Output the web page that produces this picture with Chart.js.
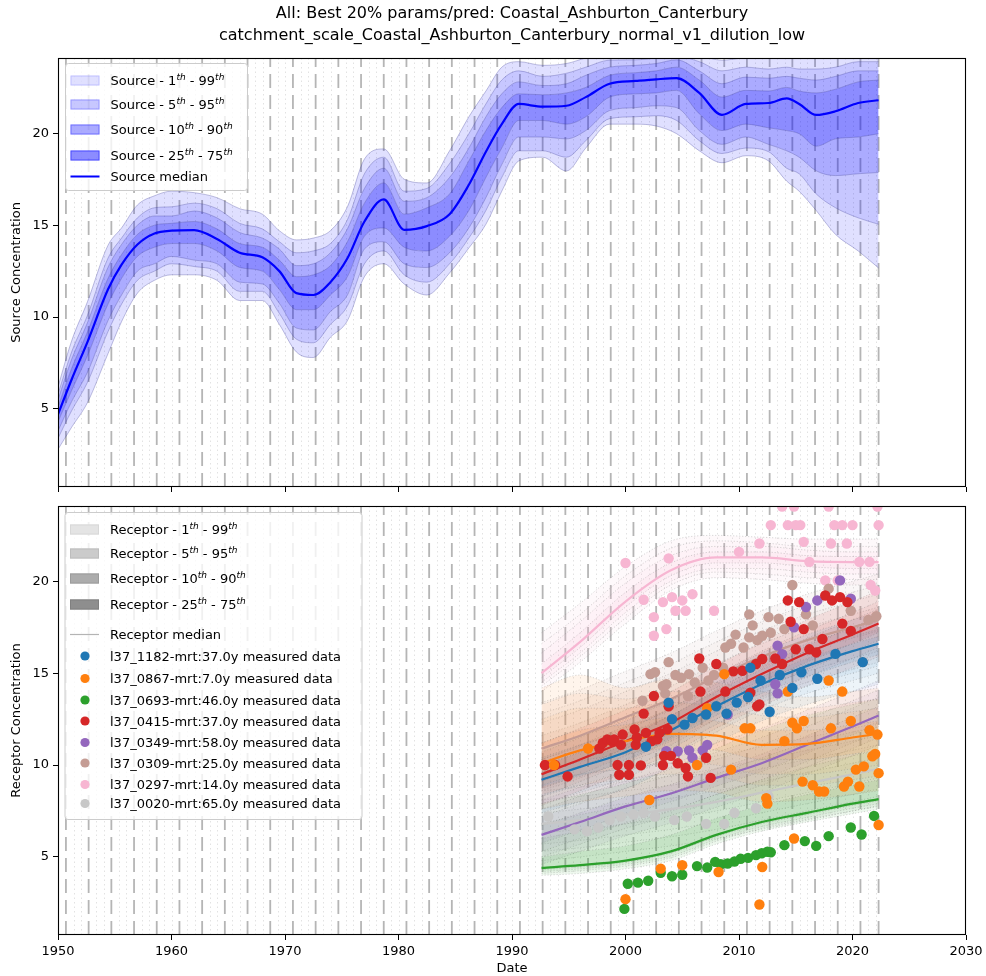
<!DOCTYPE html>
<html>
<head>
<meta charset="utf-8">
<title>Source and receptor concentration</title>
<script src="https://cdn.jsdelivr.net/npm/chart.js@4.4.1/dist/chart.umd.min.js"></script>
<style>
    body { margin: 0; background: #fff; }
    #wrap { position: relative; width: 986px; height: 976px; }
    canvas { position: absolute; left: 0; }
    #source-chart { top: 0; }
    #receptor-chart { top: 490px; }
</style>
</head>
<body>
<div id="wrap">
    <canvas id="source-chart" width="986" height="496"></canvas>
    <canvas id="receptor-chart" width="986" height="486"></canvas>
</div>
<script>
const FONT = 'DejaVu Sans';

// REFERENCE LINES (decimal years)
const dashedYears = [1950.7, 1952.7, 1954.7, 1956.7, 1958.7, 1960.7, 1962.7, 1964.7, 1966.7, 1968.7,
    1970.7, 1972.7, 1974.7, 1976.7, 1978.7, 1980.7, 1982.7, 1984.7, 1986.7, 1988.7, 1990.7, 1992.7,
    1994.7, 1996.7, 1998.7, 2000.7, 2002.7, 2004.7, 2006.7, 2008.7, 2010.7, 2012.7, 2014.7, 2016.7,
    2018.7, 2020.7, 2022.3];
const dottedYears = [1950.03, 1951.37, 1952.03, 1953.37, 1954.03, 1955.37, 1956.03, 1957.37, 1958.03,
    1959.37, 1960.03, 1961.37, 1962.03, 1963.37, 1964.03, 1965.37, 1966.03, 1967.37, 1968.03, 1969.37,
    1970.03, 1971.37, 1972.03, 1973.37, 1974.03, 1975.37, 1976.03, 1977.37, 1978.03, 1979.37, 1980.03,
    1981.37, 1982.03, 1983.37, 1984.03, 1985.37, 1986.03, 1987.37, 1988.03, 1989.37, 1990.03, 1991.37,
    1992.03, 1993.37, 1994.03, 1995.37, 1996.03, 1997.37, 1998.03, 1999.37, 2000.03, 2001.37, 2002.03,
    2003.37, 2004.03, 2005.37, 2006.03, 2007.37, 2008.03, 2009.37, 2010.03, 2011.37, 2012.03, 2013.37,
    2014.03, 2015.37, 2016.03, 2017.37, 2018.03, 2019.37, 2020.03, 2021.37, 2022.03];

// AXES
const xTicks = [1950, 1960, 1970, 1980, 1990, 2000, 2010, 2020, 2030];
const yTicks = [5, 10, 15, 20];

// SOURCE: rows are [p1, p5, p10, p25, median, p75, p90, p95, p99]
const sourceYears = [1950, 1951.2, 1952.6, 1954.4, 1955.6, 1957, 1958.5, 1960, 1962, 1964, 1966, 1968,
    1969.5, 1971, 1972.5, 1974, 1975.5, 1977, 1978.7, 1980.5, 1982.5, 1984.5, 1986.2, 1987.7, 1989.1,
    1990.6, 1992.7, 1994.8, 1996.5, 1998.6, 2000.9, 2002.7, 2004.5, 2006.5, 2008.5, 2010.6, 2012.6,
    2014.2, 2015.3, 2016.8, 2018.5, 2020.5, 2022.3];
const sourceBands = [
    [2.8, 3.4, 3.8, 4.3, 4.7, 5.1, 5.5, 5.8, 6.2],
    [4.0, 4.9, 5.4, 6.0, 6.6, 7.2, 7.7, 8.1, 8.7],
    [5.35, 6.45, 7.0, 7.9, 8.65, 9.2, 9.7, 10.1, 10.84],
    [8.0, 9.2, 9.8, 10.7, 11.5, 12.1, 12.7, 13.2, 13.9],
    [9.75, 10.7, 11.2, 12.1, 12.85, 13.4, 13.95, 14.3, 14.85],
    [11.3, 12.0, 12.5, 13.3, 13.95, 14.5, 15.0, 15.4, 16.1],
    [12.0, 12.5, 12.9, 13.8, 14.55, 15.0, 15.5, 15.95, 16.6],
    [12.3, 12.9, 13.3, 14.0, 14.7, 15.1, 15.5, 16.0, 16.85],
    [12.3, 12.75, 13.1, 14.0, 14.73, 15.2, 15.77, 16.2, 16.77],
    [12.0, 12.5, 12.9, 13.6, 14.25, 14.8, 15.4, 15.9, 16.5],
    [10.9, 11.4, 11.9, 12.7, 13.5, 14.0, 14.6, 15.1, 15.9],
    [10.9, 11.4, 11.8, 12.5, 13.25, 13.8, 14.3, 14.8, 15.6],
    [9.6, 10.2, 10.75, 11.5, 12.5, 13.1, 13.7, 14.1, 14.7],
    [8.1, 8.8, 9.4, 10.4, 11.3, 12.2, 12.8, 13.5, 14.2],
    [7.8, 8.6, 9.3, 10.4, 11.2, 12.3, 12.9, 13.6, 14.3],
    [8.9, 9.6, 10.3, 11.2, 11.9, 12.8, 13.5, 14.0, 14.7],
    [9.8, 10.6, 11.2, 12.2, 13.2, 14.1, 14.8, 15.3, 16.0],
    [12.2, 12.9, 13.7, 14.4, 15.2, 16.2, 17.0, 17.8, 18.6],
    [12.9, 13.6, 14.1, 14.85, 16.4, 17.3, 18.1, 18.7, 19.15],
    [11.8, 12.3, 12.9, 13.8, 14.75, 15.6, 16.3, 16.85, 17.5],
    [11.2, 11.9, 12.7, 13.6, 14.95, 15.95, 16.5, 17.0, 17.3],
    [12.4, 12.9, 13.5, 14.4, 15.6, 16.7, 17.6, 18.35, 19.05],
    [13.76, 14.3, 14.85, 15.8, 17.2, 18.5, 19.2, 19.98, 20.9],
    [15.05, 15.8, 16.5, 17.6, 19.0, 20.15, 20.9, 21.6, 22.3],
    [16.85, 17.6, 18.3, 19.2, 20.5, 21.4, 22.15, 22.9, 23.6],
    [18.5, 19.05, 19.8, 20.7, 21.6, 22.15, 22.8, 23.4, 23.9],
    [18.7, 19.05, 19.8, 20.7, 21.45, 22.1, 22.6, 23.1, 23.7],
    [17.95, 18.7, 19.7, 20.5, 21.5, 22.2, 22.7, 23.27, 23.8],
    [19.2, 19.6, 20.15, 20.9, 21.97, 22.5, 23.16, 23.6, 24.1],
    [20.5, 20.8, 21.24, 21.97, 22.7, 23.16, 23.6, 23.98, 24.36],
    [20.5, 20.9, 21.4, 22.15, 22.85, 23.3, 23.7, 24.0, 24.3],
    [20.4, 20.96, 21.5, 22.2, 22.94, 23.4, 23.8, 24.1, 24.4],
    [19.98, 20.7, 21.4, 22.34, 23.0, 23.6, 24.0, 24.2, 24.5],
    [19.05, 19.6, 20.15, 21.06, 22.2, 22.9, 23.4, 23.9, 24.25],
    [18.4, 18.9, 19.4, 20.15, 21.0, 21.97, 22.7, 23.4, 23.98],
    [18.78, 19.2, 19.8, 20.5, 21.6, 22.34, 23.06, 23.6, 24.1],
    [18.5, 19.0, 19.4, 20.3, 21.65, 22.3, 23.0, 23.5, 24.1],
    [17.4, 18.1, 19.05, 20.15, 21.9, 22.5, 23.1, 23.6, 24.1],
    [16.85, 17.8, 18.7, 19.98, 21.6, 22.3, 23.0, 23.5, 24.1],
    [15.8, 16.7, 17.96, 19.3, 21.0, 22.2, 22.9, 23.5, 24.1],
    [14.5, 15.95, 17.7, 19.7, 21.2, 22.4, 23.1, 23.6, 24.1],
    [13.6, 15.4, 17.8, 19.8, 21.65, 22.8, 23.4, 23.9, 24.2],
    [12.67, 15.05, 17.87, 19.98, 21.8, 22.9, 23.4, 23.9, 24.2]
];

// RECEPTORS: band rows are [p1, p5, p10, p25, median, p75, p90, p95, p99]
const receptorYears = [1992.6, 1996, 2000, 2004, 2008, 2012, 2016, 2020, 2022.3];

const bands1182 = [
    [7.4, 7.9, 8.3, 8.8, 9.2, 9.6, 10.0, 10.4, 10.9],
    [8.0, 8.5, 8.9, 9.4, 9.9, 10.3, 10.7, 11.1, 11.6],
    [8.7, 9.3, 9.7, 10.2, 10.7, 11.1, 11.5, 11.9, 12.4],
    [9.9, 10.5, 10.9, 11.4, 11.9, 12.3, 12.7, 13.1, 13.6],
    [11.2, 11.8, 12.2, 12.7, 13.2, 13.6, 14.0, 14.4, 14.9],
    [12.4, 13.0, 13.4, 13.9, 14.4, 14.8, 15.2, 15.6, 16.1],
    [13.3, 13.9, 14.3, 14.8, 15.4, 15.8, 16.2, 16.6, 17.1],
    [14.0, 14.6, 15.0, 15.6, 16.2, 16.6, 17.0, 17.4, 17.9],
    [14.4, 15.0, 15.4, 16.0, 16.6, 17.0, 17.4, 17.8, 18.3]
];
const bands0867 = [
    [7.6, 8.4, 8.9, 9.5, 10.1, 11.2, 12.5, 13.3, 14.2],
    [8.0, 8.9, 9.5, 10.2, 10.8, 11.9, 13.1, 13.9, 14.9],
    [8.3, 9.2, 9.8, 10.6, 11.3, 12.2, 13.1, 13.6, 14.2],
    [8.6, 9.5, 10.1, 10.9, 11.7, 12.6, 13.4, 14.0, 14.7],
    [8.5, 9.4, 10.0, 10.8, 11.6, 12.4, 13.2, 13.8, 14.5],
    [8.0, 8.9, 9.5, 10.3, 11.1, 11.9, 12.7, 13.3, 14.0],
    [8.1, 8.9, 9.5, 10.3, 11.15, 11.9, 12.6, 13.1, 13.7],
    [8.4, 9.2, 9.8, 10.6, 11.5, 12.2, 12.9, 13.4, 14.0],
    [8.6, 9.4, 10.0, 10.8, 11.7, 12.4, 13.1, 13.6, 14.2]
];
const bands0693 = [
    [4.0, 4.1, 4.2, 4.3, 4.4, 5.0, 6.0, 6.8, 7.9],
    [4.1, 4.25, 4.35, 4.45, 4.55, 5.3, 6.4, 7.3, 8.4],
    [4.35, 4.5, 4.6, 4.7, 4.8, 5.6, 6.8, 7.8, 9.0],
    [4.8, 4.95, 5.05, 5.2, 5.3, 6.2, 7.5, 8.5, 9.8],
    [5.7, 5.85, 5.95, 6.1, 6.2, 7.1, 8.4, 9.5, 10.9],
    [6.4, 6.55, 6.65, 6.8, 6.9, 7.8, 9.2, 10.4, 11.9],
    [6.9, 7.05, 7.15, 7.3, 7.4, 8.4, 9.9, 11.2, 12.7],
    [7.35, 7.5, 7.65, 7.8, 7.9, 8.9, 10.5, 11.8, 13.3],
    [7.6, 7.75, 7.9, 8.05, 8.15, 9.2, 10.8, 12.1, 13.6]
];
const bands0415 = [
    [7.8, 8.3, 8.7, 9.1, 9.5, 9.9, 10.3, 10.7, 11.2],
    [8.6, 9.1, 9.5, 9.9, 10.3, 10.7, 11.1, 11.5, 12.0],
    [9.6, 10.1, 10.5, 10.9, 11.3, 11.7, 12.1, 12.5, 13.0],
    [10.6, 11.1, 11.5, 11.9, 12.3, 12.7, 13.1, 13.5, 14.0],
    [12.0, 12.5, 12.9, 13.3, 13.7, 14.1, 14.5, 14.9, 15.4],
    [13.2, 13.7, 14.1, 14.5, 14.95, 15.4, 15.8, 16.2, 16.7],
    [14.3, 14.8, 15.2, 15.6, 16.1, 16.5, 16.9, 17.3, 17.9],
    [15.3, 15.8, 16.2, 16.6, 17.1, 17.5, 17.9, 18.3, 18.9],
    [15.9, 16.4, 16.8, 17.2, 17.7, 18.1, 18.5, 18.9, 19.5]
];
const bands0349 = [
    [4.6, 5.0, 5.3, 5.75, 6.2, 6.7, 7.2, 7.6, 8.1],
    [5.3, 5.7, 6.0, 6.45, 6.9, 7.4, 7.9, 8.3, 8.8],
    [6.15, 6.55, 6.85, 7.3, 7.75, 8.25, 8.75, 9.15, 9.65],
    [6.85, 7.25, 7.55, 8.0, 8.45, 8.95, 9.45, 9.85, 10.35],
    [7.7, 8.1, 8.4, 8.85, 9.3, 9.8, 10.3, 10.7, 11.2],
    [8.5, 8.9, 9.2, 9.65, 10.1, 10.6, 11.1, 11.5, 12.0],
    [9.5, 9.9, 10.2, 10.65, 11.1, 11.6, 12.1, 12.5, 13.0],
    [10.5, 10.9, 11.2, 11.65, 12.1, 12.6, 13.1, 13.5, 14.0],
    [11.1, 11.5, 11.8, 12.25, 12.7, 13.2, 13.7, 14.1, 14.6]
];
const bands0309 = [
    [8.6, 9.2, 9.6, 10.3, 10.9, 11.6, 12.3, 12.8, 13.4],
    [9.3, 9.9, 10.3, 11.0, 11.6, 12.3, 13.0, 13.5, 14.1],
    [10.3, 10.9, 11.3, 12.0, 12.6, 13.3, 14.0, 14.5, 15.1],
    [11.3, 11.9, 12.3, 13.0, 13.6, 14.3, 15.0, 15.5, 16.1],
    [12.5, 13.1, 13.5, 14.2, 14.8, 15.5, 16.2, 16.7, 17.3],
    [13.6, 14.2, 14.6, 15.3, 15.9, 16.6, 17.3, 17.8, 18.4],
    [14.5, 15.1, 15.5, 16.2, 16.8, 17.5, 18.2, 18.7, 19.3],
    [15.2, 15.8, 16.2, 16.9, 17.5, 18.2, 18.9, 19.4, 20.0],
    [15.6, 16.2, 16.6, 17.3, 17.9, 18.6, 19.3, 19.8, 20.4]
];
const bands0297 = [
    [14.0, 14.3, 14.5, 14.75, 15.0, 15.5, 16.1, 16.6, 17.2],
    [15.6, 15.9, 16.1, 16.4, 16.7, 17.2, 17.8, 18.2, 18.8],
    [17.7, 18.0, 18.3, 18.6, 18.9, 19.4, 19.9, 20.3, 20.8],
    [19.5, 19.8, 20.0, 20.3, 20.6, 21.0, 21.4, 21.8, 22.2],
    [20.2, 20.5, 20.7, 21.0, 21.3, 21.6, 21.9, 22.2, 22.5],
    [20.1, 20.4, 20.7, 21.0, 21.3, 21.6, 21.9, 22.1, 22.4],
    [19.9, 20.2, 20.5, 20.8, 21.1, 21.4, 21.7, 21.9, 22.3],
    [19.8, 20.1, 20.4, 20.7, 21.05, 21.35, 21.6, 21.9, 22.3],
    [19.8, 20.1, 20.4, 20.7, 21.05, 21.35, 21.6, 21.9, 22.3]
];
const bands0020 = [
    [4.8, 5.3, 5.7, 6.3, 6.8, 7.4, 8.1, 8.6, 9.3],
    [5.0, 5.5, 5.9, 6.5, 7.0, 7.6, 8.3, 8.8, 9.5],
    [5.3, 5.8, 6.2, 6.8, 7.3, 7.9, 8.6, 9.1, 9.8],
    [5.6, 6.1, 6.5, 7.1, 7.6, 8.2, 8.9, 9.4, 10.1],
    [6.0, 6.5, 6.9, 7.5, 8.0, 8.6, 9.3, 9.8, 10.5],
    [6.5, 7.0, 7.4, 8.0, 8.5, 9.1, 9.8, 10.3, 11.0],
    [7.0, 7.5, 7.9, 8.5, 9.0, 9.6, 10.3, 10.8, 11.5],
    [7.5, 8.0, 8.4, 9.0, 9.5, 10.1, 10.8, 11.3, 12.0],
    [7.8, 8.3, 8.7, 9.3, 9.8, 10.4, 11.1, 11.6, 12.3]
];

// MEASURED DATA
const obsYears1182 = [2001.8, 2003.8, 2004.1, 2005.2, 2005.9, 2007.1, 2008.0, 2008.9, 2009.8, 2010.8,
    2011.0, 2011.9, 2012.7, 2013.6, 2014.7, 2015.5, 2016.9, 2018.5, 2020.9];
const obsConc1182 = [11.0, 13.4, 12.5, 12.2, 12.56, 12.75, 13.2, 12.8, 13.4, 13.7,
    15.3, 14.6, 12.9, 14.9, 14.2, 15.05, 14.7, 16.05, 15.6];

const obsYears0867 = [1993.7, 1996.7, 2000.0, 2002.1, 2003.1, 2005.0, 2006.3, 2007.2, 2008.2, 2008.7,
    2009.3, 2010.5, 2011.0, 2011.8, 2012.05, 2012.4, 2012.5, 2014.0, 2014.3, 2014.7, 2014.85, 2015.1,
    2015.6, 2015.7, 2016.5, 2017.05, 2017.5, 2017.9, 2018.1, 2019.1, 2019.25, 2019.6, 2019.85, 2020.3,
    2020.6, 2021.0, 2021.5, 2021.75, 2022.0, 2022.2, 2022.3, 2022.3];
const obsConc0867 = [10.0, 10.9, 2.7, 8.1, 4.36, 4.55, 10.0, 13.1, 4.18, 14.95,
    9.75, 12.0, 12.0, 2.41, 4.45, 8.2, 7.9, 11.3, 14.0, 12.3, 6.0, 12.0,
    9.1, 12.4, 8.9, 8.56, 8.56, 14.6, 12.0, 14.0, 8.83, 9.1, 12.4, 9.75,
    8.83, 9.93, 11.9, 10.48, 10.6, 11.66, 9.56, 6.74];

const obsYears0693 = [1999.9, 2000.2, 2001.1, 2002.0, 2003.1, 2004.1, 2005.0, 2006.3, 2007.2, 2007.9,
    2008.4, 2009.0, 2009.6, 2010.15, 2010.8, 2011.5, 2012.0, 2012.5, 2012.8, 2014.0, 2015.8, 2016.8,
    2017.9, 2019.85, 2020.8, 2021.9];
const obsConc0693 = [2.17, 3.54, 3.6, 3.7, 4.14, 3.95, 4.03, 4.5, 4.42, 4.73,
    4.6, 4.64, 4.75, 4.9, 4.95, 5.1, 5.2, 5.28, 5.25, 5.64, 5.86, 5.6,
    6.13, 6.6, 6.22, 7.23];

const obsYears0415 = [1992.9, 1993.8, 1994.9, 1997.7, 1998.0, 1998.4, 1998.8, 1999.0, 1999.3, 1999.45,
    1999.6, 1999.75, 2000.3, 2000.3, 2000.8, 2000.9, 2001.0, 2001.35, 2001.6, 2001.8, 2002.3, 2002.5,
    2002.8, 2003.0, 2003.3, 2003.4, 2003.7, 2003.8, 2004.0, 2004.6, 2005.3, 2005.5, 2006.5, 2006.6,
    2007.1, 2007.5, 2008.0, 2008.8, 2009.5, 2010.3, 2011.0, 2011.5, 2011.6, 2011.8, 2012.05, 2013.2,
    2013.8, 2014.3, 2014.55, 2015.0, 2015.3, 2015.7, 2016.2, 2016.8, 2017.35, 2017.6, 2018.2, 2018.9,
    2019.1, 2019.55, 2019.85];
const obsConc0415 = [10.0, 10.0, 9.38, 10.9, 11.2, 11.4, 11.3, 11.4, 10.0, 9.47,
    11.1, 11.66, 10.0, 9.47, 11.94, 11.1, 11.5, 9.98, 12.8, 11.75, 11.3, 13.76,
    11.4, 11.75, 10.0, 10.5, 11.94, 13.2, 10.5, 10.1, 9.84, 9.38, 15.8, 14.0,
    10.4, 9.3, 15.5, 14.0, 15.1, 15.13, 13.94, 15.5, 13.2, 13.3, 15.77, 15.8,
    15.5, 18.96, 17.8, 16.3, 18.87, 17.4, 16.3, 16.13, 16.86, 19.23, 18.96, 19.14,
    17.7, 18.87, 17.3];

const obsYears0349 = [2003.6, 2004.6, 2005.6, 2005.9, 2006.8, 2007.2, 2009.0, 2013.2, 2013.4, 2013.4,
    2013.8, 2014.85, 2015.9, 2016.9, 2018.9, 2019.85];
const obsConc0349 = [10.75, 10.75, 10.8, 10.4, 10.8, 11.1, 12.75, 14.4, 13.9, 16.5,
    16.04, 17.5, 18.6, 18.96, 20.05, 19.05];

const obsYears0309 = [2001.5, 2002.2, 2002.6, 2003.3, 2003.5, 2003.6, 2003.8, 2004.4, 2004.9, 2005.5,
    2005.6, 2006.1, 2006.8, 2007.3, 2007.8, 2008.6, 2008.8, 2009.3, 2009.7, 2010.4, 2010.9, 2010.9,
    2011.2, 2011.6, 2012.05, 2012.6, 2012.8, 2013.5, 2014.0, 2014.7, 2015.9, 2016.5, 2017.9, 2019.85,
    2020.9, 2021.4, 2022.1];
const obsConc0309 = [13.5, 14.95, 15.05, 14.3, 13.9, 14.4, 15.6, 14.9, 14.75, 13.76,
    14.95, 14.5, 15.3, 14.6, 14.9, 15.3, 16.4, 16.6, 17.1, 16.4, 16.95, 18.2,
    17.6, 16.8, 17.04, 18.05, 17.2, 17.96, 17.4, 19.8, 18.2, 17.6, 19.6, 18.4,
    15.6, 17.9, 18.1];

const obsYears0297 = [2000.0, 2001.6, 2002.5, 2002.5, 2003.3, 2003.6, 2003.8, 2004.1, 2004.4, 2005.0,
    2005.3, 2005.9, 2007.8, 2010.0, 2011.8, 2012.8, 2013.8, 2014.3, 2014.85, 2015.0, 2015.4, 2015.7,
    2016.2, 2017.6, 2017.9, 2018.1, 2018.4, 2018.7, 2019.1, 2019.5, 2020.0, 2020.6, 2021.5, 2021.6,
    2022.0, 2022.2, 2022.3];
const obsConc0297 = [21.0, 19.0, 18.05, 17.04, 18.87, 17.4, 21.25, 19.14, 18.4, 18.96,
    18.4, 19.3, 18.4, 21.6, 22.06, 23.06, 24.07, 23.06, 24.07, 23.06, 23.06, 22.15,
    21.06, 20.05, 24.07, 22.06, 23.06, 20.05, 23.06, 22.06, 23.06, 21.06, 21.06, 19.8,
    19.5, 24.07, 23.06];

const obsYears0020 = [1993.2, 1995.5, 1996.6, 1997.6, 1998.6, 1999.6, 2000.7, 2001.6, 2002.6, 2004.3,
    2005.4, 2007.1, 2008.7, 2009.6, 2011.5, 2012.6];
const obsConc0020 = [7.2, 6.5, 6.4, 6.6, 7.0, 7.2, 7.3, 7.4, 7.2, 7.0,
    7.2, 6.8, 6.8, 7.4, 7.65, 8.3];

const siteLabels = [
    'l37_1182-mrt:37.0y measured data',
    'l37_0867-mrt:7.0y measured data',
    'l37_0693-mrt:46.0y measured data',
    'l37_0415-mrt:37.0y measured data',
    'l37_0349-mrt:58.0y measured data',
    'l37_0309-mrt:25.0y measured data',
    'l37_0297-mrt:14.0y measured data',
    'l37_0020-mrt:65.0y measured data'
];
const siteColors = ['#1f77b4', '#ff7f0e', '#2ca02c', '#d62728', '#9467bd', '#c49c94', '#f7b6d2', '#c7c7c7'];
const siteBands = [bands1182, bands0867, bands0693, bands0415, bands0349, bands0309, bands0297, bands0020];
const siteObsYears = [obsYears1182, obsYears0867, obsYears0693, obsYears0415, obsYears0349, obsYears0309, obsYears0297, obsYears0020];
const siteObsConc = [obsConc1182, obsConc0867, obsConc0693, obsConc0415, obsConc0349, obsConc0309, obsConc0297, obsConc0020];

// BAND HELPERS
const MEDIAN_COL = 4;
// ring drawn by each percentile column, 0 = outer (1-5 / 95-99), 3 = core (25-75)
const ringOfCol = [null, 0, 1, 2, null, 3, 2, 1, 0];
const fillTargetCol = [null, 0, 1, 2, null, 3, 5, 6, 7];

function withAlpha(hex, a) {
    const n = parseInt(hex.slice(1), 16);
    return `rgba(${(n >> 16) & 255},${(n >> 8) & 255},${n & 255},${a})`;
}

function addBands(datasets, years, rows, style) {
    const base = datasets.length;
    for (let c = 0; c < 9; c++) {
        const data = rows.map((r, i) => ({ x: years[i], y: r[c] }));
        const ring = ringOfCol[c];
        const isMedian = c === MEDIAN_COL;
        datasets.push({
            data,
            fill: ring === null ? false : base + fillTargetCol[c],
            backgroundColor: ring === null ? 'transparent' : style.ringColors[ring],
            borderColor: isMedian ? style.medianColor : style.edgeColor,
            borderWidth: isMedian ? style.medianWidth : style.edgeWidth,
            borderDash: isMedian ? [] : style.edgeDash,
            pointRadius: 0,
            cubicInterpolationMode: 'monotone',
            order: isMedian ? 2 : 3
        });
    }
}

// PLUGINS
const refLines = {
    id: 'refLines',
    beforeDatasetsDraw(chart) {
        const { ctx, chartArea: a, scales: { x } } = chart;
        ctx.save();
        ctx.beginPath();
        ctx.rect(a.left, a.top, a.width, a.height);
        ctx.clip();
        ctx.lineWidth = 1;
        ctx.strokeStyle = 'rgba(190,190,190,0.45)';
        ctx.setLineDash([1.5, 3]);
        dottedYears.forEach(yr => {
            const px = Math.round(x.getPixelForValue(yr)) + 0.5;
            ctx.beginPath(); ctx.moveTo(px, a.bottom); ctx.lineTo(px, a.top); ctx.stroke();
        });
        ctx.lineWidth = 1.8;
        ctx.strokeStyle = 'rgba(150,150,150,0.7)';
        ctx.setLineDash([14, 7]);
        dashedYears.forEach(yr => {
            const px = x.getPixelForValue(yr);
            ctx.beginPath(); ctx.moveTo(px, a.bottom); ctx.lineTo(px, a.top); ctx.stroke();
        });
        ctx.restore();
    }
};

const frameBox = {
    id: 'frameBox',
    afterDraw(chart) {
        const { ctx, chartArea: a } = chart;
        ctx.save();
        ctx.strokeStyle = '#000';
        ctx.lineWidth = 1.1;
        ctx.strokeRect(Math.round(a.left) + 0.5, Math.round(a.top) + 0.5,
            Math.round(a.width) - 1, Math.round(a.height) - 1);
        ctx.restore();
    }
};

// legend text with superscripts: parts are [text, isSuperscript]
function drawRich(ctx, x, y, parts) {
    parts.forEach(([text, sup]) => {
        ctx.font = sup ? `italic 9px "${FONT}"` : `13px "${FONT}"`;
        ctx.fillText(text, x, sup ? y - 5 : y);
        x += ctx.measureText(text).width;
    });
}

function pctLabel(name, lo, hi) {
    return [[`${name} - ${lo}`], ['th', true], [` - ${hi}`], ['th', true]];
}

function makeLegend(cfg) {
    return {
        id: 'boxLegend',
        afterDatasetsDraw(chart) {
            const { ctx, chartArea: a } = chart;
            const x0 = a.left + cfg.dx, y0 = a.top + cfg.dy;
            const w = cfg.width, h = cfg.height, r = 3;
            ctx.save();
            ctx.beginPath();
            ctx.moveTo(x0 + r, y0);
            ctx.arcTo(x0 + w, y0, x0 + w, y0 + h, r);
            ctx.arcTo(x0 + w, y0 + h, x0, y0 + h, r);
            ctx.arcTo(x0, y0 + h, x0, y0, r);
            ctx.arcTo(x0, y0, x0 + w, y0, r);
            ctx.closePath();
            ctx.fillStyle = 'rgba(255,255,255,0.8)';
            ctx.fill();
            ctx.strokeStyle = '#cccccc';
            ctx.lineWidth = 1;
            ctx.stroke();
            cfg.items.forEach((item, i) => {
                const cy = y0 + cfg.rows[i];
                const hx = x0 + 5;
                if (item.kind === 'patch') {
                    ctx.fillStyle = item.fill;
                    ctx.fillRect(hx, cy - 5, 29, 10);
                    ctx.strokeStyle = item.edge;
                    ctx.lineWidth = 1;
                    ctx.strokeRect(hx + 0.5, cy - 4.5, 28, 9);
                } else if (item.kind === 'line') {
                    ctx.strokeStyle = item.color;
                    ctx.lineWidth = item.width;
                    ctx.beginPath(); ctx.moveTo(hx, cy); ctx.lineTo(hx + 29, cy); ctx.stroke();
                } else {
                    ctx.fillStyle = item.color;
                    ctx.beginPath(); ctx.arc(hx + 15, cy, 4.6, 0, 2 * Math.PI); ctx.fill();
                }
                ctx.fillStyle = '#000';
                ctx.textBaseline = 'alphabetic';
                drawRich(ctx, x0 + 45, cy + 4.5, item.parts);
            });
            ctx.restore();
        }
    };
}

// SHARED SCALES
function buildScales(showDate, yTitle) {
    const tickFont = { family: FONT, size: 13 };
    return {
        x: {
            type: 'linear', min: xTicks[0], max: xTicks[xTicks.length - 1],
            afterBuildTicks: s => { s.ticks = xTicks.map(v => ({ value: v })); },
            ticks: { display: showDate, callback: v => String(v), font: tickFont, color: '#000', padding: 4, maxRotation: 0 },
            grid: { drawOnChartArea: false, drawTicks: true, tickLength: 5, tickColor: '#000', tickWidth: 1 },
            border: { display: false },
            title: { display: showDate, text: 'Date', font: tickFont, color: '#000', padding: { top: 0, bottom: 0 } },
            afterFit: s => { s.height = showDate ? 41 : 9; s.paddingLeft = 0; s.paddingRight = 0; }
        },
        y: {
            type: 'linear', min: 0.75, max: 24.1,
            afterBuildTicks: s => { s.ticks = yTicks.map(v => ({ value: v })); },
            ticks: { font: tickFont, color: '#000', padding: 4 },
            grid: { drawOnChartArea: false, drawTicks: true, tickLength: 5, tickColor: '#000', tickWidth: 1 },
            border: { display: false },
            title: { display: true, text: yTitle, font: tickFont, color: '#000', padding: { top: 9, bottom: 0 } },
            afterFit: s => { s.width = 58; s.paddingTop = 0; s.paddingBottom = 0; }
        }
    };
}

// SOURCE CHART
const sourceDatasets = [];
addBands(sourceDatasets, sourceYears, sourceBands, {
    ringColors: ['rgba(0,0,255,0.12)', 'rgba(0,0,255,0.22)', 'rgba(0,0,255,0.33)', 'rgba(0,0,255,0.45)'],
    edgeColor: 'rgba(60,60,150,0.4)', edgeWidth: 0.8, edgeDash: [],
    medianColor: '#0000ff', medianWidth: 2.2
});

const sourceLegend = makeLegend({
    dx: 7.5, dy: 5.5, width: 182, height: 127,
    rows: [17, 41, 66, 92, 113],
    items: [
        { kind: 'patch', fill: 'rgba(0,0,255,0.12)', edge: 'rgba(0,0,255,0.15)', parts: pctLabel('Source', 1, 99) },
        { kind: 'patch', fill: 'rgba(0,0,255,0.22)', edge: 'rgba(0,0,255,0.25)', parts: pctLabel('Source', 5, 95) },
        { kind: 'patch', fill: 'rgba(0,0,255,0.33)', edge: 'rgba(0,0,255,0.36)', parts: pctLabel('Source', 10, 90) },
        { kind: 'patch', fill: 'rgba(0,0,255,0.45)', edge: 'rgba(0,0,255,0.48)', parts: pctLabel('Source', 25, 75) },
        { kind: 'line', color: '#0000ff', width: 2, parts: [['Source median']] }
    ]
});

new Chart(document.getElementById('source-chart').getContext('2d'), {
    type: 'line',
    data: { datasets: sourceDatasets },
    options: {
        responsive: false,
        animation: false,
        devicePixelRatio: 1,
        layout: { padding: { left: 0, right: 20, top: 0, bottom: 0 } },
        plugins: {
            legend: { display: false },
            tooltip: { enabled: false },
            title: {
                display: true,
                fullSize: false,
                text: ['All: Best 20% params/pred: Coastal_Ashburton_Canterbury',
                    'catchment_scale_Coastal_Ashburton_Canterbury_normal_v1_dilution_low'],
                font: { family: FONT, size: 16, weight: 'normal', lineHeight: 1.375 },
                color: '#000',
                padding: { top: 3, bottom: 11 }
            }
        },
        scales: buildScales(false, 'Source Concentration')
    },
    plugins: [refLines, sourceLegend, frameBox]
});

// RECEPTOR CHART
const receptorDatasets = [];
siteBands.forEach((rows, i) => {
    const c = siteColors[i];
    addBands(receptorDatasets, receptorYears, rows, {
        ringColors: [withAlpha(c, 0.08), withAlpha(c, 0.13), withAlpha(c, 0.18), withAlpha(c, 0.26)],
        edgeColor: 'rgba(110,110,110,0.35)', edgeWidth: 0.8, edgeDash: [1.2, 1.8],
        medianColor: c, medianWidth: 2.2
    });
});
siteObsYears.forEach((years, i) => {
    receptorDatasets.push({
        data: years.map((yr, k) => ({ x: yr, y: siteObsConc[i][k] })),
        showLine: false,
        fill: false,
        pointRadius: 5.2,
        pointBorderWidth: 0,
        backgroundColor: siteColors[i],
        borderColor: siteColors[i],
        order: 1
    });
});

const receptorLegend = makeLegend({
    dx: 7, dy: 6.5, width: 297, height: 307,
    rows: [17, 41, 66, 92, 122, 143.5, 166, 187.5, 208.5, 230, 250.5, 272, 291],
    items: [
        { kind: 'patch', fill: '#e4e4e4', edge: '#d8d8d8', parts: pctLabel('Receptor', 1, 99) },
        { kind: 'patch', fill: '#cbcbcb', edge: '#bdbdbd', parts: pctLabel('Receptor', 5, 95) },
        { kind: 'patch', fill: '#acacac', edge: '#9c9c9c', parts: pctLabel('Receptor', 10, 90) },
        { kind: 'patch', fill: '#8e8e8e', edge: '#808080', parts: pctLabel('Receptor', 25, 75) },
        { kind: 'line', color: '#b4b4b4', width: 1.2, parts: [['Receptor median']] }
    ].concat(siteLabels.map((label, i) => ({ kind: 'dot', color: siteColors[i], parts: [[label]] })))
});

new Chart(document.getElementById('receptor-chart').getContext('2d'), {
    type: 'line',
    data: { datasets: receptorDatasets },
    options: {
        responsive: false,
        animation: false,
        devicePixelRatio: 1,
        layout: { padding: { left: 0, right: 20, top: 16, bottom: 0 } },
        plugins: { legend: { display: false }, tooltip: { enabled: false } },
        scales: buildScales(true, 'Receptor Concentration')
    },
    plugins: [refLines, receptorLegend, frameBox]
});
</script>
</body>
</html>
